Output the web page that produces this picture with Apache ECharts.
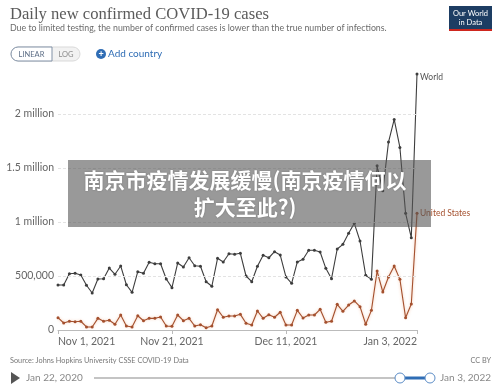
<!DOCTYPE html>
<html>
<head>
<meta charset="utf-8">
<script src="https://cdn.jsdelivr.net/npm/echarts@6/dist/echarts.min.js"></script>
<style>
html,body{margin:0;padding:0;background:#fff;}
#chart{width:500px;height:387px;}
</style>
</head>
<body>
<div id="chart"></div>
<script>
// ---- data ----
const startDate = '2021-11-01';
const dayCount = 64; // Nov 1, 2021 .. Jan 3, 2022
const worldCases = [
  417000, 417000, 521000, 525000, 509000, 414000, 343000, 472000, 475000, 574000,
  516000, 593000, 419000, 349000, 540000, 525000, 627000, 614000, 614000, 472000,
  392000, 620000, 583000, 669000, 595000, 590000, 447000, 405000, 664000, 630000,
  706000, 701000, 710000, 500000, 447000, 590000, 692000, 669000, 725000, 694000,
  491000, 432000, 630000, 655000, 738000, 738000, 722000, 571000, 475000, 750000,
  793000, 895000, 988000, 824000, 506000, 469000, 1520000, 1290000, 1740000, 1950000,
  1690000, 1080000, 855000, 2370000
];
const usCases = [
  114000, 65000, 81000, 77000, 81000, 28000, 28000, 108000, 81000, 90000,
  53000, 139000, 37000, 28000, 132000, 86000, 108000, 108000, 120000, 37000,
  34000, 139000, 86000, 108000, 37000, 49000, 21000, 37000, 188000, 118000,
  130000, 130000, 145000, 62000, 46000, 176000, 108000, 142000, 118000, 164000,
  46000, 46000, 182000, 111000, 139000, 139000, 192000, 71000, 81000, 238000,
  173000, 231000, 269000, 216000, 53000, 182000, 546000, 352000, 491000, 593000,
  469000, 114000, 241000, 1080000
];
const seriesNames = ['World', 'United States'];
const xTickLabels = {0: 'Nov 1, 2021', 20: 'Nov 21, 2021', 40: 'Dec 11, 2021', 63: 'Jan 3, 2022'};
const yTickValues = [0, 500000, 1000000, 1500000, 2000000];
const yTickLabels = ['0', '500,000', '1 million', '1.5 million', '2 million'];

// categories (dates)
const categories = [];
{
  const d0 = new Date(startDate + 'T00:00:00Z');
  for (let i = 0; i < dayCount; i++) {
    const d = new Date(d0.getTime() + i * 86400000);
    categories.push(d.toISOString().slice(0, 10));
  }
}

const chart = echarts.init(document.getElementById('chart'), null, {renderer: 'canvas'});
const gray = '#666';
const font = 'Lato, "Noto Sans", sans-serif';

const option = {
  animation: false,
  grid: {left: 58, right: 83, top: 70.8, bottom: 57, containLabel: false},
  xAxis: {
    type: 'category',
    data: categories,
    boundaryGap: false,
    axisLine: {show: true, lineStyle: {color: '#bbb', width: 1}},
    axisTick: {show: true, length: 4, lineStyle: {color: '#bbb'},
      interval: (i) => xTickLabels[i] !== undefined},
    axisLabel: {
      interval: (i) => xTickLabels[i] !== undefined,
      formatter: (v, i) => xTickLabels[i] || '',
      color: gray, fontFamily: font, fontSize: 10.5, margin: 6,
      alignMinLabel: 'left', alignMaxLabel: 'right'
    },
    splitLine: {show: false}
  },
  yAxis: {
    type: 'value',
    min: 0, max: 2400000, interval: 500000,
    axisLine: {show: false}, axisTick: {show: false},
    splitLine: {show: false},
    axisLabel: {
      showMaxLabel: false,
      margin: 4,
      color: gray, fontFamily: font, fontSize: 10.5,
      formatter: (v) => {
        const k = yTickValues.indexOf(v);
        return k >= 0 ? yTickLabels[k] : '';
      }
    }
  },
  series: [
    {
      name: seriesNames[0], type: 'line', data: worldCases,
      symbol: 'circle', symbolSize: 3, showSymbol: true,
      lineStyle: {color: '#3d3d3d', width: 1.1},
      itemStyle: {color: '#3d3d3d'},
      endLabel: {show: true, formatter: '{a}', color: '#555', fontSize: 8.5, fontFamily: font, distance: 3, offset: [0, 3]},
      markLine: {
        silent: true, symbol: 'none', label: {show: false},
        lineStyle: {color: '#e3e3e3', type: [3, 2], width: 1},
        data: yTickValues.slice(1).map(v => ({yAxis: v}))
      },
      z: 3
    },
    {
      name: seriesNames[1], type: 'line', data: usCases,
      symbol: 'circle', symbolSize: 3, showSymbol: true,
      lineStyle: {color: '#a4502e', width: 1.1, shadowColor: 'rgba(235,150,100,0.6)', shadowBlur: 3},
      itemStyle: {color: '#a4502e'},
      endLabel: {show: true, formatter: '{a}', color: '#a4502e', fontSize: 8.5, fontFamily: font, distance: 3},
      z: 2
    }
  ],
  graphic: [
    // title and subtitle
    {type: 'text', left: 10, top: 6, style: {text: 'Daily new confirmed COVID-19 cases', font: '16.6px "Liberation Serif", serif', fill: '#5b5b5b'}},
    {type: 'text', left: 10, top: 24, style: {text: 'Due to limited testing, the number of confirmed cases is lower than the true number of infections.', font: '8.8px Lato, sans-serif', fill: '#6b6b6b'}},
    // logo
    {type: 'rect', shape: {x: 449, y: 6, width: 43, height: 25}, style: {fill: '#1d3d63'}},
    {type: 'rect', shape: {x: 449, y: 29, width: 43, height: 2}, style: {fill: '#ce261e'}},
    {type: 'text', x: 470.5, y: 9, style: {text: 'Our World\nin Data', align: 'center', font: '7.5px Lato, sans-serif', fill: '#fff', lineHeight: 9}},
    // buttons
    {type: 'rect', shape: {x: 11, y: 47, width: 69, height: 14, r: 7}, style: {fill: '#f2f2f2', stroke: '#d9d9d9', lineWidth: 1}},
    {type: 'rect', shape: {x: 11, y: 47, width: 41, height: 14, r: [7, 0, 0, 7]}, style: {fill: '#fff', stroke: '#8191a6', lineWidth: 1}},
    {type: 'text', x: 31.5, y: 50.5, style: {text: 'LINEAR', align: 'center', font: '7.5px Lato, sans-serif', fill: '#5d6e86'}},
    {type: 'text', x: 66, y: 50.5, style: {text: 'LOG', align: 'center', font: '7.5px Lato, sans-serif', fill: '#8a8a8a'}},
    {type: 'circle', shape: {cx: 101, cy: 54, r: 5}, style: {fill: '#2f6db5'}},
    {type: 'text', x: 101, y: 54, style: {text: '+', align: 'center', verticalAlign: 'middle', font: 'bold 9px Lato, sans-serif', fill: '#fff'}},
    {type: 'text', x: 108, y: 48.5, style: {text: 'Add country', font: '10px Lato, sans-serif', fill: '#2f6db5'}},
    // footer
    {type: 'text', left: 10, top: 357, style: {text: 'Source: Johns Hopkins University CSSE COVID-19 Data', font: '7.3px Lato, sans-serif', fill: '#777'}},
    {type: 'text', right: 9, top: 357, style: {text: 'CC BY', font: '7.3px Lato, sans-serif', fill: '#777'}},
    {type: 'polygon', shape: {points: [[11, 372], [11, 384], [20, 378]]}, style: {fill: '#555'}},
    {type: 'text', x: 26, y: 372.5, style: {text: 'Jan 22, 2020', font: '10px Lato, sans-serif', fill: '#888'}},
    {type: 'line', shape: {x1: 94, y1: 378, x2: 400, y2: 378}, style: {stroke: '#c4c4c4', lineWidth: 2}},
    {type: 'line', shape: {x1: 400, y1: 378, x2: 430, y2: 378}, style: {stroke: '#2f6db5', lineWidth: 3}},
    {type: 'circle', shape: {cx: 400, cy: 378, r: 5}, style: {fill: '#fff', stroke: '#5b8cc6', lineWidth: 1}},
    {type: 'circle', shape: {cx: 430, cy: 378, r: 5}, style: {fill: '#fff', stroke: '#5b8cc6', lineWidth: 1}},
    {type: 'text', right: 9, top: 372.5, style: {text: 'Jan 3, 2022', font: '10px Lato, sans-serif', fill: '#888'}},
    // overlay banner
    {type: 'rect', z: 100, shape: {x: 68, y: 160, width: 363, height: 67}, style: {fill: 'rgba(85,85,85,0.6)'}},
    {type: 'text', z: 101, x: 245, y: 193.5, style: {
      text: '南京市疫情发展缓慢(南京疫情何以\n扩大至此?)', align: 'center', verticalAlign: 'middle',
      font: 'bold 21px "Noto Sans CJK SC", sans-serif', fill: '#fff', lineHeight: 27,
      textShadowColor: 'rgba(0,0,0,0.25)', textShadowBlur: 2
    }}
  ]
};
chart.setOption(option);
</script>
</body>
</html>
